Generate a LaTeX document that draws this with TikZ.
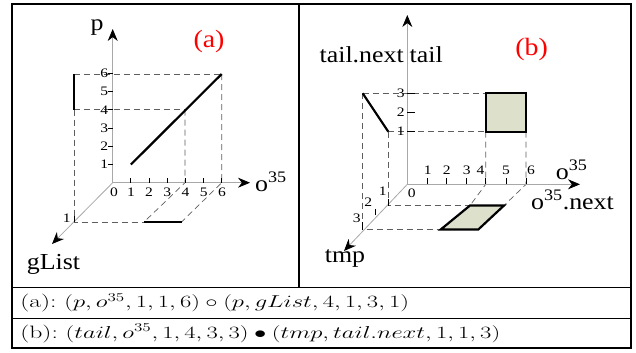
\documentclass[tikz,border=0pt]{standalone}
\usepackage{amsmath,amssymb}
\usepackage{fontspec}
\usepackage{tikz}
\usetikzlibrary{arrows.meta}
\newfontfamily\tnr{Liberation Serif}
\definecolor{axisgray}{HTML}{A8A8A8}
\definecolor{dashgray}{HTML}{5E5E5E}
\definecolor{cellfill}{HTML}{DDE0CB}
\definecolor{labelred}{HTML}{FF0000}
\tikzset{
  axisline/.style={axisgray,line width=.8bp,-{Stealth[black,length=12bp,width=10bp]}},
  guide/.style={dashgray,dash pattern=on 6bp off 4bp,line width=.7bp},
  tickmark/.style={black,line width=1bp},
  seg/.style={black,line width=2.2bp},
  num/.style={font=\tnr\fontsize{13}{13}\selectfont,inner sep=0pt,xscale=1.2,transform shape},
  axlabel/.style={font=\tnr\fontsize{23}{23}\selectfont,inner sep=0pt,xscale=1.13,transform shape},
  tag/.style={font=\tnr\fontsize{25}{25}\selectfont,labelred,inner sep=0pt,xscale=1.12,transform shape},
  rowtext/.style={anchor=west,font=\fontsize{18}{18}\selectfont,inner sep=0pt,xscale=1.43,transform shape}
}

\begin{document}
\begin{tikzpicture}[x=1bp,y=-1bp]
\useasboundingbox (0,0) rectangle (636,352);
% table frame
\draw[line width=1.2bp] (12,4) rectangle (631,348);
\draw[line width=1.2bp] (299,4) -- (299,287.7);
\draw[line width=1.2bp] (12,287.7) -- (631,287.7) (12,318.3) -- (631,318.3);

% ---- panel (a)
\coordinate (Oa) at (112.7,182.7);
\draw[guide] (74,74) -- (221.7,74) (74,109.7) -- (185,109.7);
\draw[guide] (74,109.7) -- (74,222) -- (144,222);
\draw[guide] (185,109.7) -- (185,182.7) -- (144,222);
\draw[guide] (221.7,74) -- (221.7,182.7) -- (181.5,222);
\draw[axisline] (Oa) -- (250,182.7);
\draw[axisline] (Oa) -- (112.7,29);
\draw[axisline] (Oa) -- (52,244);
\foreach \i in {1,...,6}{
  \draw[tickmark] ({112.7+18.2*\i},182.7) -- ++(0,-5);
  \draw[tickmark] (112.7,{182.7-18.2*\i}) -- ++(-5,0);
  \node[num] (oa\i) at ({112.7+18.2*\i},192) {\i};
  \node[num,anchor=east] (pa\i) at (108.5,{182.7-18.2*\i}) {\i};
}
\node[num] (oa0) at (114,192) {0};
\draw[tickmark] (74,222) -- ++(0,-6);
\node[num] (ga1) at (66.7,218) {1};
\draw[seg] (74,74) -- (74,109.7);
\draw[seg] (130.9,164.5) -- (221.7,74);
\draw[seg] (144,222) -- (181.5,222);
\node[axlabel] (pa) at (97,28) {p};
\node[axlabel] (oa) at (271,182) {o\textsuperscript{35}};
\node[axlabel] (ga) at (53.5,264) {gList};
\node[tag] (taga) at (209,42) {(a)};

% ---- panel (b)
\coordinate (Ob) at (407.3,184.3);
\draw[guide] (362.7,93.3) -- (485.7,93.3) (388.3,131.7) -- (485.7,131.7);
\draw[guide] (362.7,93.3) -- (362.7,229.5) -- (440.7,229.5);
\draw[guide] (388.3,131.7) -- (388.3,205.5) -- (470,205.5);
\draw[guide] (485.7,131.7) -- (485.7,184.3) -- (470,205.5);
\draw[guide] (526,131.7) -- (526,184.3) -- (504,205.5);
\draw[axisline] (Ob) -- (580,184.3);
\draw[axisline] (Ob) -- (407.3,15);
\draw[axisline] (Ob) -- (344,251);
\foreach \x [count=\i] in {427.7,446.7,466.7,485.7,506,526}
  \draw[tickmark] (\x,184.3) -- ++(0,-6);
\foreach \x/\t in {427.7/1,446.7/2,466.7/3,480.5/4,506/5,531/6}
  \node[num] (ob\t) at (\x,170) {\t};
\node[num] (ob0) at (411.7,193) {0};
\foreach \y/\t in {93.3/3,112.3/2,131.7/1}{
  \draw[tickmark] (407.3,\y) -- ++(7.5,0);
  \node[num,anchor=east] (tb\t) at (405,\y) {\t};
}
\draw[tickmark] (388.3,205.5) -- ++(0,-7);
\draw[tickmark] (375.7,215) -- ++(0,-6);
\draw[tickmark] (362.7,229.5) -- ++(0,-8);
\node[num] (db1) at (382.7,191.5) {1};
\node[num] (db2) at (368.3,202.7) {2};
\node[num] (db3) at (356.7,218.3) {3};
\fill[cellfill] (485.7,93.3) rectangle (526,131.7);
\draw[seg] (485.7,93.3) rectangle (526,131.7);
\fill[cellfill] (470,205.5) -- (504,205.5) -- (478.3,229.5) -- (440.7,229.5) -- cycle;
\draw[seg] (470,205.5) -- (504,205.5) -- (478.3,229.5) -- (440.7,229.5) -- cycle;
\draw[seg] (362.7,93.3) -- (388.3,131.7);
\node[axlabel,anchor=east] (tnb) at (404,55) {tail.next};
\node[axlabel,anchor=west] (tb) at (409.5,55) {tail};
\node[axlabel] (ob) at (571.7,170) {o\textsuperscript{35}};
\node[axlabel] (onb) at (572.5,200) {o\textsuperscript{35}.next};
\node[axlabel] (mb) at (345,258) {tmp};
\node[tag] (tagb) at (531.7,50) {(b)};

% ---- formulas
\node[rowtext] (rowa) at (20,303) {(a):\ $(p,o^{35},1,1,6)\circ(p,gList,4,1,3,1)$};
\node[rowtext] (rowb) at (20,333.5) {(b):\ $(tail,o^{35},1,4,3,3)\bullet(tmp,tail.next,1,1,3)$};
\end{tikzpicture}
\end{document}
